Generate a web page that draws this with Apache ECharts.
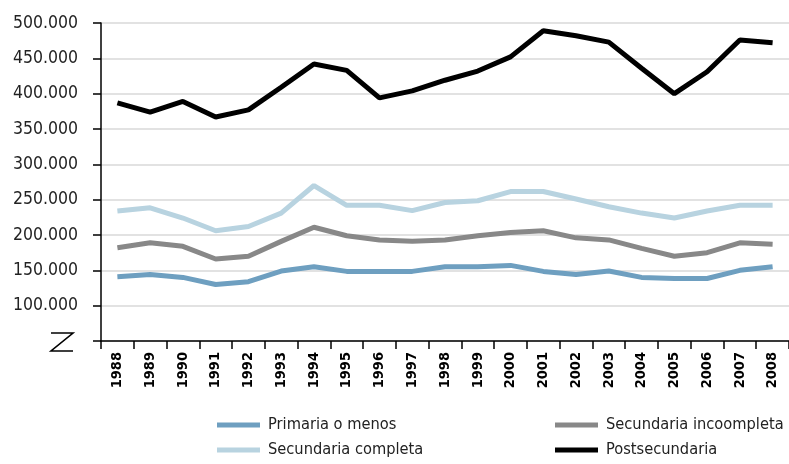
<!DOCTYPE html>
<html>
<head>
<meta charset="utf-8">
<script src="https://cdn.jsdelivr.net/npm/echarts@6/dist/echarts.min.js"></script>
<style>
  html, body, #main { margin: 0; padding: 0; width: 789px; height: 464px; overflow: hidden; background: #fff; }
</style>
</head>
<body>
<div id="main"></div>
<script>
var years = ["1988","1989","1990","1991","1992","1993","1994","1995","1996","1997","1998",
  "1999","2000","2001","2002","2003","2004","2005","2006","2007","2008"];
var primaria = [141000,144000,140000,130000,134000,149000,155000,148500,148500,148500,155000,
  155000,157000,148500,144000,149000,140000,138500,138500,150000,155000];
var secIncompleta = [182000,189000,184000,166000,170000,191000,211000,199000,193000,191000,193000,
  199000,203500,206000,196000,193000,181000,170000,175000,189000,187000];
var secCompleta = [234000,238500,224000,206000,212000,231000,270000,242000,242000,234500,246000,
  248500,261500,261500,251000,240000,231000,224000,234000,242000,242000];
var postsec = [387000,374000,389000,367000,377000,409000,442000,433000,394000,404000,419000,
  432000,452000,489000,482000,473000,436000,400000,431000,476000,472000];
var yTicks = [50000, 500000, 50000]; // min, max, interval

var labelFont = "'DejaVu Sans Condensed', sans-serif";
var myChart = echarts.init(document.getElementById("main"));

function seriesLine(name, data, color) {
  return {
    name: name, type: "line", data: data, symbol: "none",
    lineStyle: { width: 5, color: color }, itemStyle: { color: color }
  };
}

function legendAt(name, left, top) {
  return {
    data: [name], left: left, top: top, orient: "horizontal", padding: 0,
    icon: "rect", itemWidth: 43, itemHeight: 5, itemGap: 5,
    textStyle: { fontFamily: labelFont, fontSize: 16.3, color: "#222", padding: [0, 0, 0, 3] }
  };
}

myChart.setOption({
  animation: false,
  grid: { left: 101, right: -5, top: 23, bottom: 123 },
  legend: [
    legendAt("Primaria o menos", 217, 417),
    legendAt("Secundaria incoompleta", 555, 417),
    legendAt("Secundaria completa", 217, 442),
    legendAt("Postsecundaria", 555, 442)
  ],
  xAxis: {
    type: "category", data: years, boundaryGap: true,
    axisLine: { lineStyle: { color: "#000", width: 1.5 } },
    axisTick: { show: true, length: 8, lineStyle: { color: "#000", width: 1.5 } },
    axisLabel: {
      rotate: 90, margin: 11, color: "#000", interval: 0,
      fontFamily: labelFont, fontWeight: "bold", fontSize: 14.5
    }
  },
  yAxis: {
    type: "value", min: yTicks[0], max: yTicks[1], interval: yTicks[2],
    axisLine: { show: true, lineStyle: { color: "#000", width: 1.5 } },
    axisTick: { show: true, length: 8, lineStyle: { color: "#000", width: 1.5 } },
    splitLine: { lineStyle: { color: "#d9d9d9", width: 1.5 } },
    axisLabel: {
      margin: 23, color: "#222", fontFamily: labelFont, fontSize: 17.5,
      formatter: function (v) {
        if (v === yTicks[0]) return "";
        return (v / 1000).toFixed(0) + ".000";
      }
    }
  },
  graphic: [{
    type: "polyline",
    shape: { points: [[51, 333], [73, 333], [51, 351], [73, 351]] },
    style: { stroke: "#000", lineWidth: 1.6, fill: null }
  }],
  series: [
    seriesLine("Primaria o menos", primaria, "#6e9fc0"),
    seriesLine("Secundaria incoompleta", secIncompleta, "#888888"),
    seriesLine("Secundaria completa", secCompleta, "#b8d3e0"),
    seriesLine("Postsecundaria", postsec, "#000000")
  ]
});

window.onresize = myChart.resize;
</script>
</body>
</html>
